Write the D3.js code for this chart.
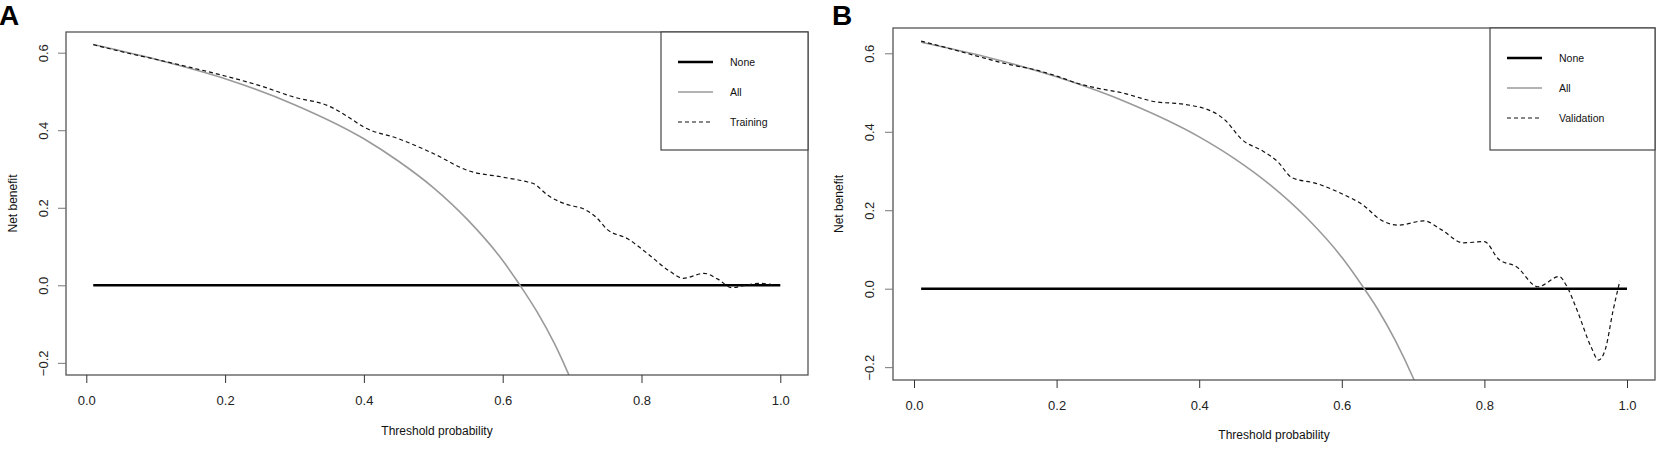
<!DOCTYPE html>
<html>
<head>
<meta charset="utf-8">
<script src="https://cdn.jsdelivr.net/npm/d3@7"></script>
<style>
  body { margin: 0; background: #fff; }
  svg { font-family: "Liberation Sans", Arial, sans-serif; }
  .tick-label { font-size: 13px; fill: #222; }
  .axis-title { font-size: 12px; fill: #111; }
  .legend-text { font-size: 10.5px; fill: #111; }
  .panel-letter { font-size: 28px; font-weight: bold; fill: #000; }
</style>
</head>
<body>
<svg id="dca" width="1659" height="449"></svg>
<script>
// Tick values
var xTicks = [0, 0.2, 0.4, 0.6, 0.8, 1.0];
var yTicks = [-0.2, 0, 0.2, 0.4, 0.6];

// Panel A - training set
var trainPt = [0.01, 0.05, 0.10, 0.15, 0.20, 0.25, 0.30, 0.35, 0.375, 0.40, 0.45, 0.50, 0.55, 0.60, 0.635, 0.645, 0.665, 0.69, 0.72, 0.735, 0.75, 0.78, 0.81, 0.84, 0.86, 0.89, 0.91, 0.93, 0.95, 0.97, 0.99];
var trainNB = [0.621, 0.603, 0.583, 0.562, 0.540, 0.515, 0.485, 0.462, 0.437, 0.408, 0.378, 0.340, 0.296, 0.279, 0.267, 0.262, 0.232, 0.210, 0.194, 0.175, 0.145, 0.120, 0.080, 0.037, 0.018, 0.031, 0.016, -0.006, 0.000, 0.005, 0.001];
var allAPt = [0.01, 0.10, 0.20, 0.30, 0.40, 0.45, 0.50, 0.55, 0.60, 0.625, 0.65, 0.675, 0.70];
var allANB = [0.621, 0.583, 0.533, 0.466, 0.378, 0.320, 0.252, 0.168, 0.064, 0.0, -0.07, -0.152, -0.25];

// Panel B - validation set
var validPt = [0.01, 0.05, 0.10, 0.13, 0.17, 0.20, 0.23, 0.26, 0.29, 0.34, 0.375, 0.42, 0.435, 0.46, 0.49, 0.51, 0.53, 0.565, 0.60, 0.63, 0.655, 0.68, 0.715, 0.74, 0.77, 0.80, 0.82, 0.845, 0.875, 0.905, 0.915, 0.93, 0.95, 0.96, 0.97, 0.98, 0.99];
var validNB = [0.631, 0.612, 0.587, 0.573, 0.558, 0.542, 0.523, 0.510, 0.500, 0.476, 0.471, 0.450, 0.432, 0.380, 0.350, 0.324, 0.283, 0.268, 0.242, 0.213, 0.175, 0.162, 0.173, 0.150, 0.117, 0.120, 0.075, 0.056, 0.005, 0.031, 0.008, -0.055, -0.150, -0.182, -0.152, -0.060, 0.020];
var allBPt = [0.01, 0.10, 0.20, 0.30, 0.40, 0.45, 0.50, 0.55, 0.60, 0.63, 0.65, 0.675, 0.70, 0.72];
var allBNB = [0.628, 0.591, 0.540, 0.474, 0.387, 0.331, 0.264, 0.182, 0.080, 0.004, -0.051, -0.132, -0.227, -0.314];

var nonePt = [0.01, 1.0];
var noneNB = [0, 0];

var svg = d3.select("#dca");

function zip(xs, ys) {
  return xs.map((x, i) => ({ pt: x, nb: ys[i] }));
}

function drawPanel(p) {
  var g = svg.append("g");

  var x = d3.scaleLinear().domain([0, 1]).range(p.xRange);
  var y = d3.scaleLinear().domain([0, 0.6]).range(p.yRange);

  var line = d3.line()
    .x((d) => x(d.pt))
    .y((d) => y(d.nb))
    .curve(d3.curveMonotoneX);

  g.append("clipPath")
    .attr("id", "clip-" + p.id)
    .append("rect")
    .attr("x", p.box[0])
    .attr("y", p.box[1])
    .attr("width", p.box[2] - p.box[0])
    .attr("height", p.box[3] - p.box[1]);

  var plot = g.append("g").attr("clip-path", "url(#clip-" + p.id + ")");

  // treat none
  plot.append("path")
    .datum(zip(nonePt, noneNB))
    .attr("fill", "none")
    .attr("stroke", "#000")
    .attr("stroke-width", 2.4)
    .attr("d", line);

  // treat all
  plot.append("path")
    .datum(zip(p.allPt, p.allNB))
    .attr("fill", "none")
    .attr("stroke", "#9a9a9a")
    .attr("stroke-width", 1.6)
    .attr("d", line);

  // model
  plot.append("path")
    .datum(zip(p.modelPt, p.modelNB))
    .attr("fill", "none")
    .attr("stroke", "#111")
    .attr("stroke-width", 1.2)
    .attr("stroke-dasharray", "4,3")
    .attr("d", line);

  // box
  g.append("rect")
    .attr("x", p.box[0])
    .attr("y", p.box[1])
    .attr("width", p.box[2] - p.box[0])
    .attr("height", p.box[3] - p.box[1])
    .attr("fill", "none")
    .attr("stroke", "#555")
    .attr("stroke-width", 1.3);

  // x axis
  var xAxis = g.append("g")
    .attr("transform", "translate(0," + p.box[3] + ")")
    .call(d3.axisBottom(x).tickValues(xTicks).tickFormat(d3.format(".1f")).tickSize(8).tickPadding(13));
  xAxis.select(".domain").remove();
  xAxis.selectAll("line").attr("stroke", "#333");
  xAxis.selectAll("text").attr("class", "tick-label").attr("font-family", null).attr("font-size", null);

  // y axis
  var yAxis = g.append("g")
    .attr("transform", "translate(" + p.box[0] + ",0)")
    .call(d3.axisLeft(y).tickValues(yTicks).tickFormat(d3.format(".1f")).tickSize(8));
  yAxis.select(".domain").remove();
  yAxis.selectAll("line").attr("stroke", "#777");
  yAxis.selectAll("text")
    .attr("class", "tick-label")
    .attr("font-family", null)
    .attr("font-size", null)
    .attr("x", null)
    .attr("dy", null)
    .attr("text-anchor", "middle")
    .attr("transform", (d) => "translate(" + (p.yLabelX - p.box[0]) + ",0) rotate(-90)");

  g.append("text")
    .attr("class", "axis-title")
    .attr("text-anchor", "middle")
    .attr("transform", "translate(" + p.yTitleX + "," + ((p.box[1] + p.box[3]) / 2) + ") rotate(-90)")
    .text("Net benefit");

  g.append("text")
    .attr("class", "axis-title")
    .attr("text-anchor", "middle")
    .attr("x", (p.box[0] + p.box[2]) / 2)
    .attr("y", p.xTitleY)
    .text("Threshold probability");

  // legend
  var lg = g.append("g");
  lg.append("rect")
    .attr("x", p.legend[0])
    .attr("y", p.box[1])
    .attr("width", p.box[2] - p.legend[0])
    .attr("height", p.legend[1] - p.box[1])
    .attr("fill", "#fff")
    .attr("stroke", "#444")
    .attr("stroke-width", 1.2);

  var items = [
    { label: "None", color: "#000", width: 2.4, dash: null },
    { label: "All", color: "#9a9a9a", width: 1.6, dash: null },
    { label: p.modelName, color: "#111", width: 1.2, dash: "4,3" },
  ];
  items.forEach((it, i) => {
    var yy = p.box[1] + 30 + i * 30;
    lg.append("line")
      .attr("x1", p.legend[0] + 17)
      .attr("x2", p.legend[0] + 52)
      .attr("y1", yy)
      .attr("y2", yy)
      .attr("stroke", it.color)
      .attr("stroke-width", it.width)
      .attr("stroke-dasharray", it.dash);
    lg.append("text")
      .attr("class", "legend-text")
      .attr("x", p.legend[0] + 69)
      .attr("y", yy)
      .attr("dy", "0.35em")
      .text(it.label);
  });

  svg.append("text")
    .attr("class", "panel-letter")
    .attr("x", p.letterX)
    .attr("y", 25)
    .text(p.letter);
}

drawPanel({
  id: "a", letter: "A", letterX: -1, modelName: "Training",
  box: [66, 32, 808, 375], xRange: [86.3, 780.3], yRange: [285.3, 52.7],
  legend: [661, 150], yLabelX: 48, yTitleX: 17, xTitleY: 435,
  modelPt: trainPt, modelNB: trainNB, allPt: allAPt, allNB: allANB,
});

drawPanel({
  id: "b", letter: "B", letterX: 832, modelName: "Validation",
  box: [893, 28, 1655, 380], xRange: [914, 1627], yRange: [288.7, 53.3],
  legend: [1490, 150], yLabelX: 874, yTitleX: 843, xTitleY: 439,
  modelPt: validPt, modelNB: validNB, allPt: allBPt, allNB: allBNB,
});
</script>
</body>
</html>
